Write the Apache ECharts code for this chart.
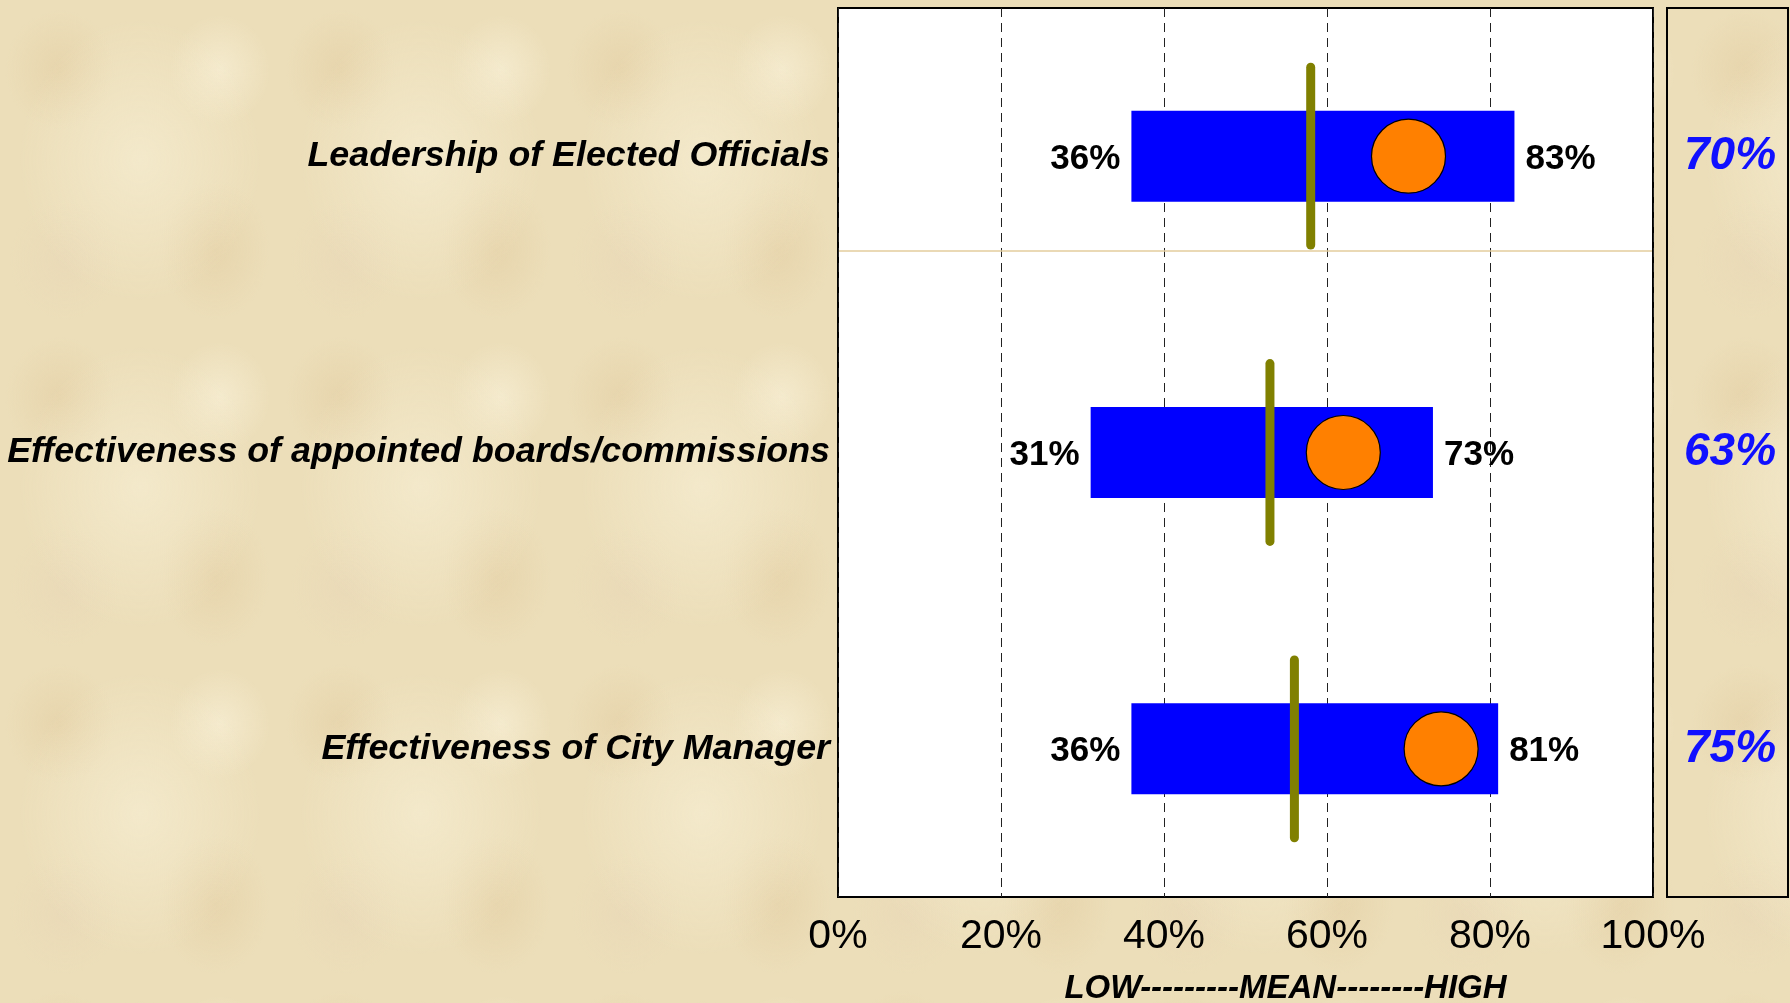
<!DOCTYPE html>
<html>
<head>
<meta charset="utf-8">
<title>Low - Mean - High</title>
<script src="https://cdn.jsdelivr.net/npm/echarts@6/dist/echarts.min.js"></script>
<style>
	html, body {
		margin: 0;
		padding: 0;
		background: #eee0bd;
	}
	#main {
		width: 1790px;
		height: 1003px;
		background-color: #ecdeb9;
		background-image:
			radial-gradient(ellipse 120px 140px at 140px 160px, rgba(248, 240, 214, 0.6), rgba(248, 240, 214, 0) 100%),
			radial-gradient(ellipse 55px 60px at 60px 70px, rgba(226, 204, 160, 0.5), rgba(226, 204, 160, 0) 100%),
			radial-gradient(ellipse 55px 70px at 215px 250px, rgba(226, 204, 160, 0.5), rgba(226, 204, 160, 0) 100%),
			radial-gradient(ellipse 50px 55px at 220px 70px, rgba(250, 242, 218, 0.6), rgba(250, 242, 218, 0) 100%),
			radial-gradient(ellipse 55px 60px at 65px 260px, rgba(232, 214, 182, 0.5), rgba(232, 214, 182, 0) 100%);
		background-size: 281px 327px;
	}
</style>
</head>
<body>
<div id="main"></div>
<script>
var categories = ['Leadership of Elected Officials', 'Effectiveness of appointed boards/commissions', 'Effectiveness of City Manager'];
var lows = [36, 31, 36];
var highs = [83, 73, 81];
var means = [58, 53, 56];
var dots = [70, 62, 74];
var scores = [70, 63, 75];
var xTicks = [0, 20, 40, 60, 80, 100];

var fontName = "'Liberation Sans', Arial, sans-serif";

function init() {
	var chart = echarts.init(document.getElementById('main'));

	var spans = [];
	for (var i = 0; i < lows.length; i++) {
		spans.push(highs[i] - lows[i]);
	}
	var meanData = [];
	var dotData = [];
	for (var j = 0; j < means.length; j++) {
		meanData.push([means[j], j]);
		dotData.push([dots[j], j]);
	}

	var option = {
		backgroundColor: 'transparent',
		animation: false,
		textStyle: { fontFamily: fontName },
		grid: [
			{
				left: 838, right: 137, top: 8, bottom: 106, outerBoundsMode: 'none',
				show: true, backgroundColor: '#fff', borderColor: '#000', borderWidth: 2
			},
			{
				left: 1667, right: 2, top: 8, bottom: 106, outerBoundsMode: 'none',
				show: true, backgroundColor: 'transparent', borderColor: '#000', borderWidth: 2
			}
		],
		xAxis: [
			{
				type: 'value', gridIndex: 0,
				min: xTicks[0], max: xTicks[xTicks.length - 1], interval: 20,
				axisLine: { show: false },
				axisTick: { show: false },
				axisLabel: {
					formatter: '{value}%', color: '#000', fontSize: 41, margin: 19,
					fontFamily: fontName
				},
				splitLine: {
					show: true,
					lineStyle: { color: '#222', width: 1, type: [9, 6] }
				},
				name: 'LOW---------MEAN--------HIGH',
				nameLocation: 'middle',
				nameGap: 75,
				nameTextStyle: {
					color: '#000', fontSize: 33, fontWeight: 'bold', fontStyle: 'italic',
					fontFamily: fontName, padding: [0, 0, 0, 80]
				}
			},
			{ type: 'value', gridIndex: 1, show: false, min: 0, max: 1 }
		],
		yAxis: [
			{
				type: 'category', gridIndex: 0, data: categories, inverse: true,
				axisLine: { show: false },
				axisTick: { show: false },
				axisLabel: {
					color: '#000', fontSize: 35.8, fontWeight: 'bold', fontStyle: 'italic',
					fontFamily: fontName, margin: 8, padding: [8, 0, 0, 0]
				}
			},
			{
				// scores on the right side
				type: 'category', gridIndex: 0, data: categories, inverse: true,
				position: 'right',
				axisLine: { show: false },
				axisTick: { show: false },
				axisLabel: {
					formatter: function(v, idx) { return scores[idx] + '%'; },
					color: '#1010ff', fontSize: 46, fontWeight: 'bold', fontStyle: 'italic',
					fontFamily: fontName, align: 'center', margin: 77, padding: [8, 0, 0, 0]
				}
			},
			{ type: 'category', gridIndex: 1, show: false, data: categories }
		],
		graphic: [
			{
				type: 'line', z: 5,
				shape: { x1: 839, y1: 251, x2: 1652, y2: 251 },
				style: { stroke: '#e3cc9c', lineWidth: 1.5 }
			}
		],
		series: [
			{
				name: 'low', type: 'bar', stack: 'range', barWidth: '30.7%',
				data: lows,
				itemStyle: { color: 'transparent' },
				label: {
					show: true, position: 'insideRight', distance: 11, offset: [0, 3],
					formatter: function(p) { return lows[p.dataIndex] + '%'; },
					color: '#000', fontSize: 35, fontWeight: 'bold', fontFamily: fontName
				},
				z: 2
			},
			{
				name: 'range', type: 'bar', stack: 'range', barWidth: '30.7%',
				data: spans,
				itemStyle: { color: '#0000ff' },
				label: {
					show: true, position: 'right', distance: 11, offset: [0, 3],
					formatter: function(p) { return highs[p.dataIndex] + '%'; },
					color: '#000', fontSize: 35, fontWeight: 'bold', fontFamily: fontName
				},
				z: 2
			},
			{
				name: 'mean', type: 'custom',
				data: meanData,
				encode: { x: 0, y: 1 },
				renderItem: function(params, api) {
					var pt = api.coord([api.value(0), api.value(1)]);
					var half = api.size([0, 1])[1] * 0.3;
					return {
						type: 'line',
						shape: { x1: pt[0], y1: pt[1] - half, x2: pt[0], y2: pt[1] + half },
						style: { stroke: '#808000', lineWidth: 9, lineCap: 'round' }
					};
				},
				z: 3
			},
			{
				name: 'score', type: 'scatter',
				data: dotData,
				symbol: 'circle',
				symbolSize: 74,
				itemStyle: { color: '#ff8000', borderColor: '#000', borderWidth: 1.2, opacity: 1 },
				z: 4
			}
		]
	};

	chart.setOption(option);
}

init();
</script>
</body>
</html>
